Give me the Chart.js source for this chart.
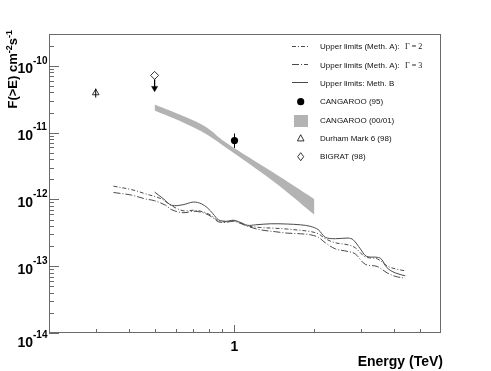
<!DOCTYPE html>
<html><head><meta charset="utf-8">
<script src="https://cdn.jsdelivr.net/npm/chart.js@4"></script>
<style>html,body{margin:0;padding:0;background:#fff}canvas{display:block}</style>
</head><body>
<canvas id="c" width="491" height="371"></canvas>
<script>
// ---- data (Energy in TeV, integral flux F(>E) in cm^-2 s^-1)
const ulA2Energy = [0.35, 0.41, 0.46, 0.53, 0.58, 0.64, 0.71, 0.78, 0.83, 0.87, 0.93, 0.99, 1.05, 1.12, 1.25, 1.43, 1.58, 1.77, 1.93, 2.07, 2.2, 2.4, 2.68, 2.85, 3.11, 3.45, 3.76, 4.03, 4.4];
const ulA2Flux = [1.58e-12, 1.40e-12, 1.22e-12, 1.02e-12, 8.04e-13, 6.77e-13, 6.89e-13, 6.32e-13, 5.50e-13, 4.71e-13, 4.63e-13, 4.79e-13, 4.47e-13, 4.03e-13, 3.80e-13, 3.70e-13, 3.60e-13, 3.45e-13, 3.31e-13, 3.06e-13, 2.58e-13, 2.24e-13, 2.09e-13, 1.89e-13, 1.38e-13, 1.29e-13, 1.01e-13, 9.14e-14, 8.53e-14];
const ulA3Energy = [0.35, 0.41, 0.46, 0.50, 0.55, 0.58, 0.64, 0.71, 0.78, 0.83, 0.87, 0.93, 0.99, 1.05, 1.12, 1.25, 1.43, 1.58, 1.77, 1.93, 2.07, 2.2, 2.4, 2.68, 2.85, 3.11, 3.45, 3.76, 4.03, 4.4];
const ulA3Flux = [1.27e-12, 1.16e-12, 1.02e-12, 9.56e-13, 8.18e-13, 7.01e-13, 6.32e-13, 6.65e-13, 6.10e-13, 5.31e-13, 4.63e-13, 4.55e-13, 4.71e-13, 4.40e-13, 3.96e-13, 3.51e-13, 3.28e-13, 3.13e-13, 3.06e-13, 2.96e-13, 2.71e-13, 2.24e-13, 1.82e-13, 1.66e-13, 1.53e-13, 1.07e-13, 9.9e-14, 7.96e-14, 7.06e-14, 6.59e-14];
const ulBEnergy = [0.50, 0.54, 0.58, 0.64, 0.70, 0.75, 0.79, 0.83, 0.87, 0.93, 0.99, 1.05, 1.12, 1.2, 1.37, 1.58, 1.77, 1.93, 2.07, 2.2, 2.4, 2.68, 2.8, 2.98, 3.14, 3.45, 3.57, 3.76, 4.03, 4.4];
const ulBFlux = [1.29e-12, 1.02e-12, 8.18e-13, 8.33e-13, 9.14e-13, 8.62e-13, 7.51e-13, 6.10e-13, 4.96e-13, 4.71e-13, 4.88e-13, 4.55e-13, 4.10e-13, 4.17e-13, 4.32e-13, 4.28e-13, 4.17e-13, 3.96e-13, 3.51e-13, 2.71e-13, 2.58e-13, 2.64e-13, 2.49e-13, 1.82e-13, 1.41e-13, 1.36e-13, 1.29e-13, 9.46e-14, 7.96e-14, 7.18e-14];
const bandEnergy = [0.5, 0.643, 0.778, 0.925, 1.4, 2.0];
const bandUpper = [2.63e-11, 1.76e-11, 1.23e-11, 7.16e-12, 2.52e-12, 1.01e-12];
const bandLower = [2.14e-11, 1.41e-11, 9.66e-12, 6.06e-12, 1.87e-12, 5.9e-13];
const cang95Point = [1.0, 7.6e-12];
const cang95Err = [5.9e-12, 9.7e-12];
const durhamPoint = [0.3, 3.94e-11];
const durhamErr = [3.35e-11, 4.57e-11];
const bigratPoint = [0.5, 7.2e-11];
const bigratArrow = [6.24e-11, 4.64e-11];
const yTickExponents = [-14, -13, -12, -11, -10];
const xMajorTicks = [1];
const xMinorTicks = [0.3, 0.4, 0.5, 0.6, 0.7, 0.8, 0.9, 2, 3, 4, 5];
const xLabels = ['1'];
const legendLabels = ['Upper limits (Meth. A):', 'Upper limits (Meth. A):', 'Upper limits: Meth. B', 'CANGAROO (95)', 'CANGAROO (00/01)', 'Durham Mark 6 (98)', 'BIGRAT (98)'];
const gammaLabels = ['\u0393 = 2', '\u0393 = 3'];

const pts = (xs, ys) => xs.map((x, i) => ({x, y: ys[i]}));
const DASH2 = [4, 2, 1, 2], DASH3 = [7, 2, 1, 2];
const LINE = '#4a4a4a', BAND = '#b3b3b3';

const datasets = [
  {data: [{x: durhamPoint[0], y: durhamErr[0]}, {x: durhamPoint[0], y: durhamErr[1]}], borderColor: '#000', borderWidth: 1, pointRadius: 0, tension: 0},
  {data: [{x: durhamPoint[0], y: durhamPoint[1]}], showLine: false, pointStyle: 'triangle', pointRadius: 3.8, backgroundColor: 'rgba(0,0,0,0)', borderColor: '#000', pointBorderWidth: 0.8},
  {data: [{x: bigratPoint[0], y: bigratPoint[1]}], showLine: false, pointStyle: 'rectRot', pointRadius: 4, backgroundColor: '#fff', borderColor: '#000', pointBorderWidth: 0.8},
  {data: [{x: bigratPoint[0], y: bigratArrow[1]}], showLine: false, pointStyle: 'triangle', rotation: 180, pointRadius: 3.5, backgroundColor: '#000', borderColor: '#000', pointBorderWidth: 0.5},
  {data: [{x: bigratPoint[0], y: bigratArrow[0]}, {x: bigratPoint[0], y: bigratArrow[1]}], borderColor: '#000', borderWidth: 1, pointRadius: 0, tension: 0},
  {data: [{x: cang95Point[0], y: cang95Point[1]}], showLine: false, pointStyle: 'circle', pointRadius: 3.6, backgroundColor: '#000', borderColor: '#000', pointBorderWidth: 0},
  {data: [{x: cang95Point[0], y: cang95Err[0]}, {x: cang95Point[0], y: cang95Err[1]}], borderColor: '#000', borderWidth: 1, pointRadius: 0, tension: 0},
  {data: pts(ulA2Energy, ulA2Flux), borderColor: LINE, borderWidth: 1, borderDash: DASH2, pointRadius: 0, tension: 0.35},
  {data: pts(ulA3Energy, ulA3Flux), borderColor: LINE, borderWidth: 1, borderDash: DASH3, pointRadius: 0, tension: 0.35},
  {data: pts(ulBEnergy, ulBFlux), borderColor: LINE, borderWidth: 1, pointRadius: 0, tension: 0.35},
  {data: pts(bandEnergy, bandUpper), borderWidth: 0, borderColor: BAND, backgroundColor: BAND, pointRadius: 0, tension: 0.4, fill: '+1'},
  {data: pts(bandEnergy, bandLower), borderWidth: 0, borderColor: BAND, pointRadius: 0, tension: 0.4, fill: false}
];

function richText(ctx, segs, x, y, align) {
  let w = 0;
  segs.forEach(s => { ctx.font = s.font; w += ctx.measureText(s.t).width; });
  let cx = align === 'right' ? x - w : x;
  ctx.textAlign = 'left';
  segs.forEach(s => { ctx.font = s.font; ctx.fillText(s.t, cx, y - (s.dy || 0)); cx += ctx.measureText(s.t).width; });
}

const rootAxes = {
  id: 'rootAxes',
  afterDraw(chart) {
    const {ctx, chartArea: a, scales: {x, y}} = chart;
    ctx.save();
    ctx.strokeStyle = '#6a6a6a';
    ctx.lineWidth = 1;
    ctx.strokeRect(a.left + 0.5, a.top + 0.5, a.right - a.left - 1, a.bottom - a.top - 1);
    ctx.beginPath();
    yTickExponents.forEach(e => {
      for (let m = 1; m <= 9; m++) {
        const v = m * Math.pow(10, e);
        if (v > y.max * 1.0001) break;
        const py = Math.round(y.getPixelForValue(v)) + 0.5;
        const len = m === 1 ? 10 : 5;
        ctx.moveTo(a.left, py); ctx.lineTo(a.left + len, py);
      }
    });
    xMinorTicks.forEach(v => { const px = Math.round(x.getPixelForValue(v)) + 0.5; ctx.moveTo(px, a.bottom); ctx.lineTo(px, a.bottom - 4); });
    xMajorTicks.forEach(v => { const px = Math.round(x.getPixelForValue(v)) + 0.5; ctx.moveTo(px, a.bottom); ctx.lineTo(px, a.bottom - 8); });
    ctx.stroke();

    ctx.fillStyle = '#000';
    ctx.textBaseline = 'middle';
    yTickExponents.forEach(e => {
      const py = y.getPixelForValue(Math.pow(10, e));
      const shift = (e === -14) ? 7 : 0;
      ctx.font = 'bold 14px "Liberation Sans", Arial, sans-serif';
      ctx.textAlign = 'right';
      ctx.fillText('10', 33, py + 3.5 + shift);
      ctx.font = 'bold 10px "Liberation Sans", Arial, sans-serif';
      ctx.textAlign = 'left';
      ctx.fillText('-' + Math.abs(e), 33, py - 5 + shift);
    });
    ctx.font = 'bold 14px "Liberation Sans", Arial, sans-serif';
    ctx.textAlign = 'center';
    xMajorTicks.forEach((v, i) => ctx.fillText(xLabels[i], x.getPixelForValue(v), a.bottom + 14));
    ctx.textAlign = 'right';
    ctx.fillText('Energy (TeV)', 443, 362);
    ctx.save();
    ctx.translate(17, 30);
    ctx.rotate(-Math.PI / 2);
    ctx.textBaseline = 'alphabetic';
    const big = 'bold 13px "Liberation Sans", Arial, sans-serif', sm = 'bold 9px "Liberation Sans", Arial, sans-serif';
    richText(ctx, [{t: 'F(>E) cm', font: big}, {t: '-2', font: sm, dy: 5}, {t: 's', font: big}, {t: '-1', font: sm, dy: 5}], 0, 0, 'right');
    ctx.restore();

    const rows = [47, 65.5, 83.5, 102.2, 120.7, 138.3, 157];
    ctx.font = '8px "Liberation Sans", Arial, sans-serif';
    ctx.textAlign = 'left';
    ctx.textBaseline = 'middle';
    ctx.fillStyle = '#111';
    legendLabels.forEach((t, i) => ctx.fillText(t, 320, rows[i]));
    ctx.font = '8px "Liberation Serif", "Times New Roman", serif';
    gammaLabels.forEach((t, i) => ctx.fillText(t, 405, rows[i]));
    ctx.strokeStyle = LINE; ctx.lineWidth = 1;
    [[DASH2, rows[0] - 1.5], [DASH3, rows[1] - 1.5], [[], rows[2] - 1.5]].forEach(([d, yy]) => {
      ctx.setLineDash(d); ctx.beginPath(); ctx.moveTo(292, Math.round(yy) + 0.5); ctx.lineTo(308, Math.round(yy) + 0.5); ctx.stroke();
    });
    ctx.setLineDash([]);
    ctx.fillStyle = '#000';
    ctx.beginPath(); ctx.arc(300.7, rows[3] - 0.5, 3.6, 0, Math.PI * 2); ctx.fill();
    ctx.fillStyle = BAND; ctx.fillRect(294, 115, 14, 12);
    ctx.strokeStyle = '#000'; ctx.lineWidth = 0.8;
    const ty = rows[5];
    ctx.beginPath(); ctx.moveTo(300.7, ty - 3.6); ctx.lineTo(304, ty + 2.6); ctx.lineTo(297.4, ty + 2.6); ctx.closePath(); ctx.stroke();
    const dy = rows[6] - 0.3;
    ctx.beginPath(); ctx.moveTo(300.7, dy - 4); ctx.lineTo(303.7, dy); ctx.lineTo(300.7, dy + 4); ctx.lineTo(297.7, dy); ctx.closePath(); ctx.stroke();
    ctx.restore();
  }
};

Chart.defaults.font.family = '"Liberation Sans", Arial, sans-serif';
new Chart(document.getElementById('c'), {
  type: 'line',
  data: {datasets},
  options: {
    responsive: false,
    animation: false,
    devicePixelRatio: 1,
    events: [],
    layout: {padding: {left: 49, right: 50, top: 34, bottom: 38}},
    plugins: {legend: {display: false}, tooltip: {enabled: false}},
    scales: {
      x: {type: 'logarithmic', min: 0.2, max: 6, display: false},
      y: {type: 'logarithmic', min: 1e-14, max: 3e-10, display: false}
    }
  },
  plugins: [rootAxes]
});
</script>
</body></html>
